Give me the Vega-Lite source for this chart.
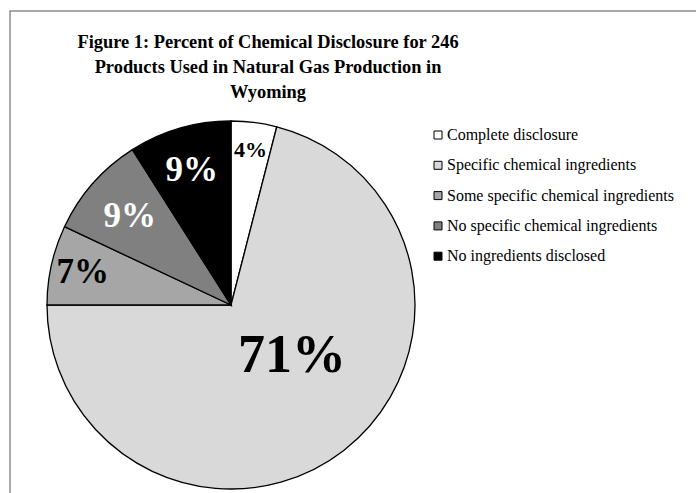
{
  "$schema": "https://vega.github.io/schema/vega-lite/v6.json",
  "autosize": {"type": "none"},
  "padding": {"left": 10, "top": 11, "right": 0, "bottom": 0},
  "width": 700,
  "height": 500,
  "background": "white",
  "title": {
    "text": [
      "Figure 1: Percent of Chemical Disclosure for 246",
      "Products Used in Natural Gas Production in",
      "Wyoming"
    ],
    "font": "Liberation Serif",
    "fontSize": 18.4,
    "fontWeight": "bold",
    "color": "black",
    "lineHeight": 25,
    "anchor": "middle",
    "frame": "group",
    "dx": -92,
    "dy": 94
  },
  "data": {
    "values": [
      {"rank": 1, "category": "Complete disclosure", "pct": 4, "label": "4%"},
      {"rank": 2, "category": "Specific chemical ingredients", "pct": 71, "label": "71%"},
      {"rank": 3, "category": "Some specific chemical ingredients", "pct": 7, "label": "7%"},
      {"rank": 4, "category": "No specific chemical ingredients", "pct": 9, "label": "9%"},
      {"rank": 5, "category": "No ingredients disclosed", "pct": 9, "label": "9%"}
    ]
  },
  "encoding": {
    "theta": {"field": "pct", "type": "quantitative", "stack": true},
    "order": {"field": "rank", "type": "quantitative"},
    "x": {"value": 221},
    "y": {"value": 294}
  },
  "layer": [
    {
      "mark": {"type": "arc", "outerRadius": 184, "stroke": "black", "strokeWidth": 1.3},
      "encoding": {
        "color": {
          "field": "category",
          "type": "nominal",
          "sort": [
            "Complete disclosure",
            "Specific chemical ingredients",
            "Some specific chemical ingredients",
            "No specific chemical ingredients",
            "No ingredients disclosed"
          ],
          "scale": {
            "domain": [
              "Complete disclosure",
              "Specific chemical ingredients",
              "Some specific chemical ingredients",
              "No specific chemical ingredients",
              "No ingredients disclosed"
            ],
            "range": ["#ffffff", "#d9d9d9", "#a6a6a6", "#808080", "#000000"]
          },
          "legend": {
            "title": null,
            "orient": "none",
            "legendX": 420,
            "legendY": 116,
            "symbolType": "square",
            "symbolSize": 64,
            "symbolStrokeColor": "black",
            "symbolStrokeWidth": 1,
            "labelFont": "Liberation Serif",
            "labelFontSize": 16,
            "labelColor": "black",
            "labelOffset": 1,
            "rowPadding": 14.3,
            "labelLimit": 300
          }
        }
      }
    },
    {
      "mark": {"type": "text", "font": "Liberation Serif", "fontWeight": "bold", "baseline": "middle", "align": "center", "fontSize": 22, "color": "black"},
      "encoding": {
        "radius": {"value": 156},
        "text": {"condition": {"test": "datum.rank == 1", "field": "label", "type": "nominal"}, "value": ""}
      }
    },
    {
      "mark": {"type": "text", "font": "Liberation Serif", "fontWeight": "bold", "baseline": "middle", "align": "center", "fontSize": 35, "color": "black"},
      "encoding": {
        "radius": {"value": 152},
        "text": {"condition": {"test": "datum.rank == 3", "field": "label", "type": "nominal"}, "value": ""}
      }
    },
    {
      "mark": {"type": "text", "font": "Liberation Serif", "fontWeight": "bold", "baseline": "middle", "align": "center", "fontSize": 35, "color": "white"},
      "encoding": {
        "radius": {"value": 135},
        "text": {"condition": {"test": "datum.rank == 4", "field": "label", "type": "nominal"}, "value": ""}
      }
    },
    {
      "mark": {"type": "text", "font": "Liberation Serif", "fontWeight": "bold", "baseline": "middle", "align": "center", "fontSize": 35, "color": "white"},
      "encoding": {
        "radius": {"value": 141},
        "text": {"condition": {"test": "datum.rank == 5", "field": "label", "type": "nominal"}, "value": ""}
      }
    },
    {
      "mark": {"type": "text", "font": "Liberation Serif", "fontWeight": "bold", "baseline": "middle", "align": "center", "fontSize": 54, "dx": 12, "dy": -12, "color": "black"},
      "encoding": {
        "radius": {"value": 80},
        "text": {"condition": {"test": "datum.rank == 2", "field": "label", "type": "nominal"}, "value": ""}
      }
    }
  ],
  "config": {
    "view": {"stroke": "#8c8c8c", "strokeWidth": 1.5}
  }
}
